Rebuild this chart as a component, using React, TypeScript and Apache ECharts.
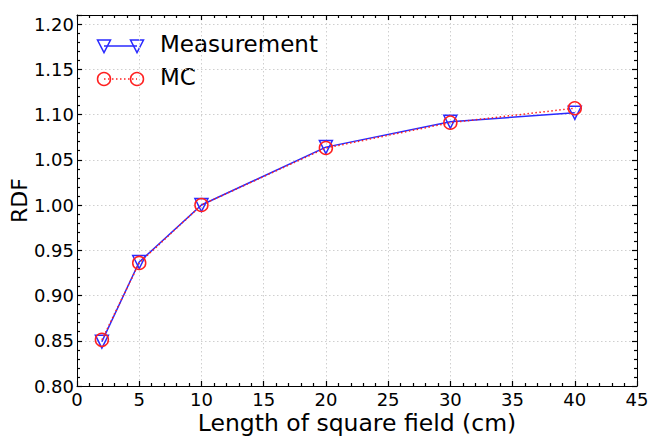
import React, { useEffect, useRef } from "react";
import * as echarts from "echarts";

const fieldSizes = [2, 5, 10, 20, 30, 40];
const measurement = [0.849, 0.937, 1.0, 1.064, 1.092, 1.102];
const mc = [0.851, 0.936, 1.0, 1.063, 1.091, 1.107];
const seriesNames = ["Measurement", "MC"];
const xTitle = "Length of square field (cm)";
const yTitle = "RDF";

const FONT = "DejaVu Sans";
const BLUE = "#2a2aff";
const RED = "#ff2020";

export default function App() {
  const ref = useRef<HTMLDivElement>(null);
  useEffect(() => {
    if (!ref.current) return;
    const chart = echarts.init(ref.current, undefined, { renderer: "svg" });
    const tickCommon = {
      axisLine: { show: true, onZero: false, lineStyle: { color: "#000", width: 1 } },
      axisTick: { show: true, inside: true, length: 5, lineStyle: { color: "#000", width: 1.2 } },
      minorTick: { show: true, splitNumber: 5, length: 3, lineStyle: { color: "#000", width: 1.2 } },
    };
    const xBase = { type: "value" as const, min: 0, max: 45, interval: 5 };
    const yBase = { type: "value" as const, min: 0.8, max: 1.21, interval: 0.05 };
    const legendY1 = 46;
    const legendY2 = 79;
    const tri = (cx: number, cy: number) => ({
      type: "polygon",
      shape: { points: [[cx - 6.5, cy - 6], [cx + 6.5, cy - 6], [cx, cy + 6.5]] },
      style: { fill: "none", stroke: BLUE, lineWidth: 1.5 },
    });
    const circ = (cx: number, cy: number) => ({
      type: "circle",
      shape: { cx, cy, r: 6.5 },
      style: { fill: "none", stroke: RED, lineWidth: 1.5 },
    });
    chart.setOption({
      animation: false,
      textStyle: { fontFamily: FONT },
      grid: { left: 77, right: 11, top: 15, bottom: 50, containLabel: false, outerBoundsMode: "none" },
      xAxis: [
        {
          ...xBase,
          position: "bottom",
          ...tickCommon,
          axisLabel: { color: "#000", fontSize: 18, fontFamily: FONT, margin: 4 },
          splitLine: { show: true, lineStyle: { color: "#cfcfcf", type: [1.5, 2.5], width: 1 } },
          name: xTitle,
          nameLocation: "middle",
          nameGap: 25,
          nameMoveOverlap: false,
          nameTextStyle: { color: "#000", fontSize: 23.5, fontFamily: FONT, verticalAlign: "top" },
        },
        {
          ...xBase,
          position: "top",
          ...tickCommon,
          axisLabel: { show: false },
          splitLine: { show: false },
        },
      ],
      yAxis: [
        {
          ...yBase,
          position: "left",
          ...tickCommon,
          axisLabel: {
            color: "#000",
            fontSize: 18,
            fontFamily: FONT,
            margin: 3,
            showMaxLabel: false,
            formatter: (v: number) => v.toFixed(2),
          },
          splitLine: { show: true, lineStyle: { color: "#cfcfcf", type: [1.5, 2.5], width: 1 } },
          name: yTitle,
          nameLocation: "middle",
          nameGap: 47,
          nameMoveOverlap: false,
          nameTextStyle: { color: "#000", fontSize: 22, fontFamily: FONT },
        },
        {
          ...yBase,
          position: "right",
          ...tickCommon,
          axisLabel: { show: false },
          splitLine: { show: false },
        },
      ],
      series: [
        {
          name: seriesNames[0],
          type: "line",
          data: fieldSizes.map((x, i) => [x, measurement[i]]),
          symbol: "triangle",
          symbolRotate: 180,
          symbolSize: 13,
          lineStyle: { color: BLUE, width: 1.5 },
          itemStyle: { color: "rgba(0,0,0,0)", borderColor: BLUE, borderWidth: 1.5 },
          z: 2,
        },
        {
          name: seriesNames[1],
          type: "line",
          data: fieldSizes.map((x, i) => [x, mc[i]]),
          symbol: "circle",
          symbolSize: 13,
          lineStyle: { color: RED, width: 1.5, type: [1.5, 2.5] },
          itemStyle: { color: "rgba(0,0,0,0)", borderColor: RED, borderWidth: 1.5 },
          z: 3,
        },
      ],
      graphic: [
        { type: "line", shape: { x1: 104, y1: legendY1, x2: 137, y2: legendY1 }, style: { stroke: BLUE, lineWidth: 1.5 } },
        tri(104, legendY1),
        tri(137, legendY1),
        { type: "text", left: 160, top: legendY1 - 14, style: { text: seriesNames[0], font: `23px '${FONT}'`, fill: "#000" } },
        { type: "line", shape: { x1: 104, y1: legendY2, x2: 137, y2: legendY2 }, style: { stroke: RED, lineWidth: 1.5, lineDash: [1.5, 2.5] } },
        circ(104, legendY2),
        circ(137, legendY2),
        { type: "text", left: 160, top: legendY2 - 14, style: { text: seriesNames[1], font: `23px '${FONT}'`, fill: "#000" } },
      ],
    });
    return () => chart.dispose();
  }, []);
  return <div ref={ref} style={{ width: 648, height: 436, position: "absolute", left: 0, top: 0 }} />;
}
